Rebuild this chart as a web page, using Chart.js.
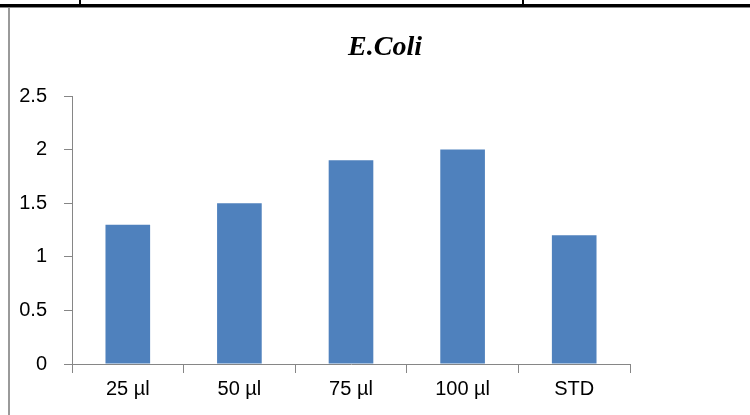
<!DOCTYPE html>
<html>
<head>
<meta charset="utf-8">
<script src="https://cdn.jsdelivr.net/npm/chart.js@4"></script>
<style>
  body { margin: 0; background: #fff; }
  .wrap { position: relative; width: 750px; height: 415px; overflow: hidden; }
  .topline { position: absolute; left: 0; top: 4px; width: 750px; height: 3px; background: #000; border-bottom: 1px solid #888; }
  .vtick { position: absolute; top: 0; width: 2px; height: 6px; background: #000; }
  .leftline { position: absolute; left: 8px; top: 8px; width: 2px; height: 407px; background: #9a9a9a; }
</style>
</head>
<body>
<div class="wrap">
  <canvas id="barChart" width="750" height="415"></canvas>
  <div class="topline"></div>
  <div class="vtick" style="left:79px"></div>
  <div class="vtick" style="left:522px"></div>
  <div class="leftline"></div>
</div>
<script>
var categories = ["25 µl", "50 µl", "75 µl", "100 µl", "STD"];
var values = [1.3, 1.5, 1.9, 2.0, 1.2];
var chartTitle = "E.Coli";

// title drawn by hand so it sits where the original one is
var titlePlugin = {
  id: "ecoliTitle",
  afterDraw: function(chart) {
    var ctx = chart.ctx;
    ctx.save();
    ctx.font = "italic bold 28px 'Liberation Serif', 'Times New Roman', serif";
    ctx.fillStyle = "#000";
    ctx.textAlign = "center";
    ctx.textBaseline = "alphabetic";
    ctx.fillText(chartTitle, 385, 55);
    ctx.restore();
  }
};

var tickFont = { family: "'Liberation Sans', Arial, sans-serif", size: 20 };

var ctx = document.getElementById("barChart").getContext("2d");
new Chart(ctx, {
  type: "bar",
  data: {
    labels: categories,
    datasets: [{
      data: values,
      backgroundColor: "#4F81BD",
      borderWidth: 0,
      barPercentage: 0.4,
      categoryPercentage: 1.0
    }]
  },
  options: {
    responsive: false,
    animation: false,
    layout: { padding: { left: 0, right: 120, top: 96, bottom: 0 } },
    plugins: {
      legend: { display: false },
      tooltip: { enabled: false }
    },
    scales: {
      x: {
        offset: true,
        grid: { display: true, drawOnChartArea: false, drawTicks: true, tickLength: 9, color: "#868686", lineWidth: 1, offset: true },
        border: { display: true, color: "#868686", width: 1 },
        ticks: { color: "#000", padding: 4, font: tickFont },
        afterFit: function(scale) { scale.height = 51; }
      },
      y: {
        min: 0,
        max: 2.5,
        ticks: {
          stepSize: 0.5, color: "#000", padding: 17, font: tickFont,
          callback: function(v) { return String(v); }
        },
        grid: { display: true, drawOnChartArea: false, drawTicks: true, tickLength: 8, color: "#868686", lineWidth: 1 },
        border: { display: true, color: "#868686", width: 1 },
        afterFit: function(scale) { scale.width = 72; }
      }
    }
  },
  plugins: [titlePlugin]
});
</script>
</body>
</html>
